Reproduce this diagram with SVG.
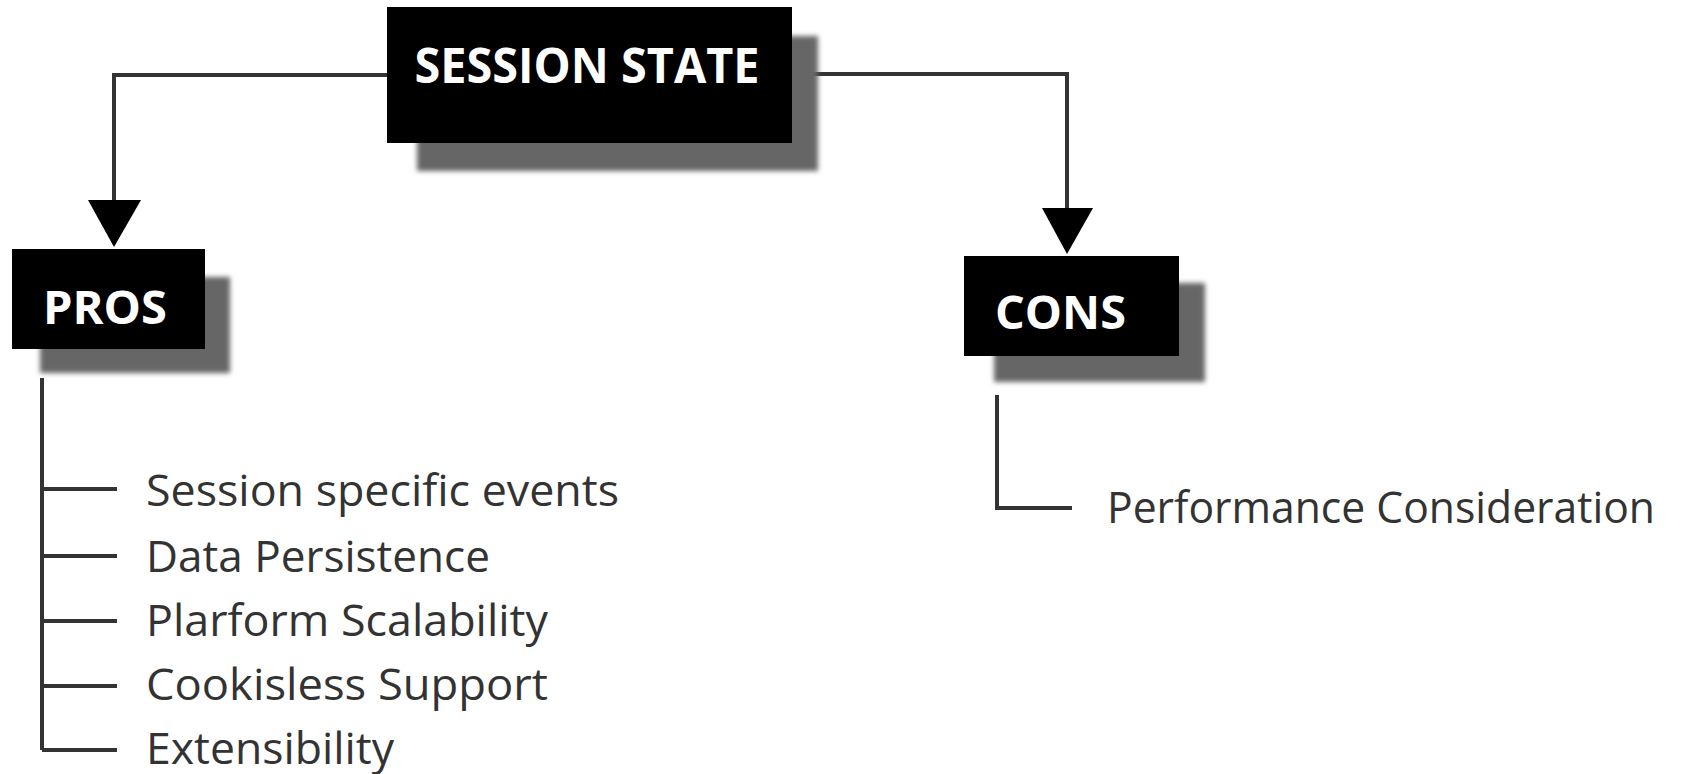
<svg xmlns="http://www.w3.org/2000/svg" width="1685" height="774" viewBox="0 0 1685 774">
  <defs>
    <filter id="blur" x="-10%" y="-10%" width="120%" height="130%">
      <feGaussianBlur stdDeviation="2.5"/>
    </filter>
    <style>
      .box { fill: #000; }
      .shadow { fill: #666; filter: url(#blur); }
      .title { font-family: "Open Sans", "Noto Sans", sans-serif; font-weight: bold; fill: #fff; }
      .item { font-family: "Open Sans", "Noto Sans", sans-serif; fill: #333; font-size: 43px; }
      .line { fill: none; stroke: #333; stroke-width: 4; }
      .arrow { fill: #000; }
    </style>
  </defs>
  <rect width="1685" height="774" fill="#fff"/>

  <g id="connectors">
    <path class="line" d="M387 75 H114 V205"/>
    <polygon class="arrow" points="88,200 141,200 114,247"/>
    <path class="line" d="M792 74 H1067 V212"/>
    <polygon class="arrow" points="1042,208 1093,208 1067,254"/>
    <path class="line" d="M42 378 V750 M42 489 H117 M42 556 H117 M42 621 H117 M42 686 H117 M42 750 H117"/>
    <path class="line" d="M997 395 V508 H1072"/>
  </g>

  <g id="session-state">
    <rect class="shadow" x="417" y="36" width="401" height="135"/>
    <rect class="box" x="387" y="7" width="405" height="136"/>
    <text class="title" x="587" y="83" font-size="49" text-anchor="middle" textLength="345" lengthAdjust="spacingAndGlyphs">SESSION STATE</text>
  </g>

  <g id="pros">
    <rect class="shadow" x="40" y="277" width="190" height="96"/>
    <rect class="box" x="12" y="249" width="193" height="100"/>
    <text class="title" x="43" y="324" font-size="47" textLength="124" lengthAdjust="spacingAndGlyphs">PROS</text>
  </g>

  <g id="cons">
    <rect class="shadow" x="994" y="283" width="211" height="99"/>
    <rect class="box" x="964" y="256" width="215" height="100"/>
    <text class="title" x="995" y="329" font-size="47" textLength="131" lengthAdjust="spacingAndGlyphs">CONS</text>
  </g>

  <g id="pros-items">
    <text class="item" x="146" y="506" textLength="473" lengthAdjust="spacingAndGlyphs">Session specific events</text>
    <text class="item" x="146" y="572" textLength="344" lengthAdjust="spacingAndGlyphs">Data Persistence</text>
    <text class="item" x="146" y="636" textLength="402" lengthAdjust="spacingAndGlyphs">Plarform Scalability</text>
    <text class="item" x="146" y="700" textLength="402" lengthAdjust="spacingAndGlyphs">Cookisless Support</text>
    <text class="item" x="146" y="764" textLength="248" lengthAdjust="spacingAndGlyphs">Extensibility</text>
  </g>

  <g id="cons-items">
    <text class="item" x="1107" y="523" textLength="548" lengthAdjust="spacingAndGlyphs">Performance Consideration</text>
  </g>
</svg>
